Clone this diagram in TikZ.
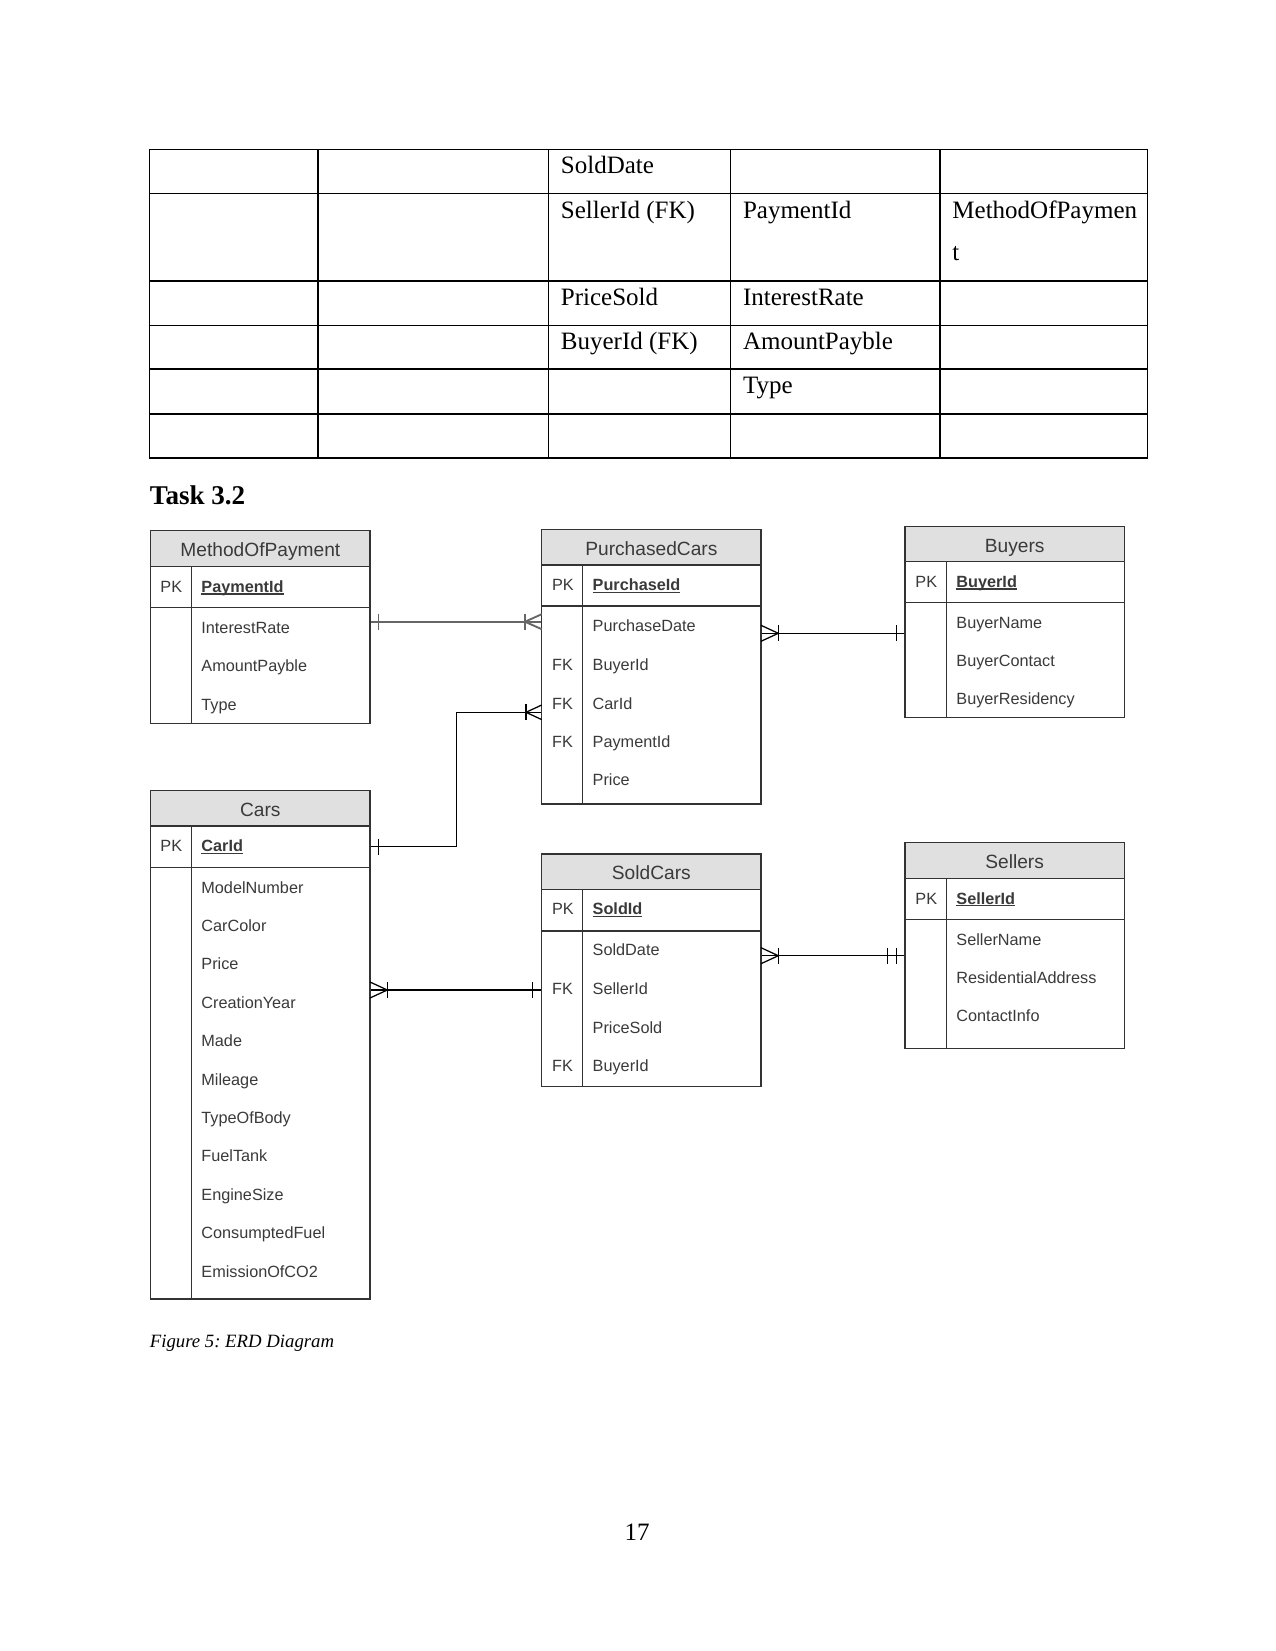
\documentclass[tikz,border=0pt]{standalone}
\usepackage{fontspec}
\setmainfont{Liberation Serif}
\newfontfamily\erfont{Liberation Sans}
\usetikzlibrary{fit}
\frenchspacing
\definecolor{erline}{HTML}{333333}
\definecolor{ertext}{HTML}{3A3A3A}
\definecolor{hdrfill}{HTML}{E0E0E0}
\definecolor{conngray}{HTML}{666666}
\newsavebox\erulbox
\newcommand\erul[1]{\sbox\erulbox{#1}\rlap{\rule[-1pt]{\wd\erulbox}{0.55pt}}\usebox\erulbox}
\newcommand\erbox[8]{%
  \fill[hdrfill] (#2,#3) rectangle (#4,#5);
  \draw[eline] (#2,#5) -- (#4,#5) (#2,#6) -- (#4,#6) (#8,#5) -- (#8,#7);
  \node[ebox, fit={(#2,#3) (#4,#7)}] (#1) {};
}
\begin{document}
\begin{tikzpicture}[x=0.48pt,y=-0.48pt,
  tbl/.style={line width=0.5pt, black},
  cell/.style={anchor=base west, inner sep=0pt, font=\fontsize{12}{14}\selectfont},
  hdr/.style={anchor=base, inner sep=0pt, text=ertext, font=\erfont\fontsize{9.2}{11}\selectfont},
  fld/.style={anchor=base west, inner sep=0pt, text=ertext, font=\erfont\fontsize{7.8}{9}\selectfont},
  pkf/.style={anchor=base west, inner sep=0pt, text=ertext, font=\erfont\bfseries\fontsize{7.8}{9}\selectfont},
  ebox/.style={draw=erline, line width=0.7pt, inner sep=0pt},
  eline/.style={draw=erline, line width=0.7pt},
  conn/.style={draw=black, line width=0.6pt},
  conng/.style={draw=conngray, line width=0.9pt},
]
\useasboundingbox (0,0) rectangle (1275,1651);
\fill[white] (0,0) rectangle (1275,1651);

% ---------- table ----------
\draw[tbl] (149.5,149.5) rectangle (1147.5,458);
\foreach \y in {193.7,281,325.3,369,414} \draw[tbl] (149.5,\y) -- (1147.5,\y);
\foreach \x in {318,548.5,730.6,940} \draw[tbl] (\x,149.5) -- (\x,458);

\node[cell] (t11) at (560.5,174) {SoldDate};
\node[cell] (t21) at (560.5,218.2) {SellerId (FK)};
\node[cell] (t22) at (742.6,218.2) {PaymentId};
\node[cell] (t23) at (952,218.2) {MethodOfPaymen};
\node[cell] (t23b) at (952,260.5) {t};
\node[cell] (t31) at (560.5,305.5) {PriceSold};
\node[cell] (t32) at (742.6,305.5) {InterestRate};
\node[cell] (t41) at (560.5,349.8) {BuyerId (FK)};
\node[cell] (t42) at (742.6,349.8) {AmountPayble};
\node[cell] (t52) at (742.6,393.5) {Type};

\node[anchor=base west, inner sep=0pt, font=\bfseries\fontsize{13}{15}\selectfont] (task) at (149.5,504) {Task 3.2};

% ---------- MethodOfPayment ----------
\erbox{mop}{150.7}{530.7}{370}{566.7}{607.7}{723.3}{191.7}
\node[hdr] (mop-t) at (260.35,556.3) {MethodOfPayment};
\node[fld] (mop-pk) at (160,592.5) {PK};
\node[pkf] (mop-id) at (201,592.5) {\erul{PaymentId}};
\node[fld] (mop-f1) at (201,633.1) {InterestRate};
\node[fld] (mop-f2) at (201,671.5) {AmountPayble};
\node[fld] (mop-f3) at (201,710.1) {Type};

% ---------- PurchasedCars ----------
\erbox{pc}{541.7}{529.3}{761}{565}{606}{804}{582.7}
\node[hdr] (pc-t) at (651.35,555.3) {PurchasedCars};
\node[fld] (pc-pk) at (551.7,590.8) {PK};
\node[pkf] (pc-id) at (592.3,590.8) {\erul{PurchaseId}};
\node[fld] (pc-f1) at (592.3,631.8) {PurchaseDate};
\node[fld] (pc-k2) at (551.7,670.8) {FK};
\node[fld] (pc-f2) at (592.3,670.8) {BuyerId};
\node[fld] (pc-k3) at (551.7,709.1) {FK};
\node[fld] (pc-f3) at (592.3,709.1) {CarId};
\node[fld] (pc-k4) at (551.7,747.5) {FK};
\node[fld] (pc-f4) at (592.3,747.5) {PaymentId};
\node[fld] (pc-f5) at (592.3,785.8) {Price};

% ---------- Buyers ----------
\erbox{buy}{905}{526.7}{1124.3}{561.7}{602.7}{717.3}{946.7}
\node[hdr] (buy-t) at (1014.65,552) {Buyers};
\node[fld] (buy-pk) at (915,587.5) {PK};
\node[pkf] (buy-id) at (956,587.5) {\erul{BuyerId}};
\node[fld] (buy-f1) at (956,628.1) {BuyerName};
\node[fld] (buy-f2) at (956,666.5) {BuyerContact};
\node[fld] (buy-f3) at (956,704.1) {BuyerResidency};

% ---------- Cars ----------
\erbox{cars}{150.7}{790.7}{370}{826}{867.7}{1299}{191.7}
\node[hdr] (cars-t) at (260.35,816.3) {Cars};
\node[fld] (cars-pk) at (160,851.8) {PK};
\node[pkf] (cars-id) at (201,851.8) {\erul{CarId}};
\foreach \t [count=\i] in {ModelNumber,CarColor,Price,CreationYear,Made,Mileage,TypeOfBody,FuelTank,EngineSize,ConsumptedFuel,EmissionOfCO2}
  \node[fld] (cars-f\i) at (201,{893.1+38.4*(\i-1)}) {\t};

% ---------- SoldCars ----------
\erbox{sold}{541.7}{854}{761}{889.3}{931}{1086.7}{582.7}
\node[hdr] (sold-t) at (651.35,879.7) {SoldCars};
\node[fld] (sold-pk) at (551.7,914.8) {PK};
\node[pkf] (sold-id) at (592.3,914.8) {\erul{SoldId}};
\node[fld] (sold-f1) at (592.3,955.8) {SoldDate};
\node[fld] (sold-k2) at (551.7,994.8) {FK};
\node[fld] (sold-f2) at (592.3,994.8) {SellerId};
\node[fld] (sold-f3) at (592.3,1033.1) {PriceSold};
\node[fld] (sold-k4) at (551.7,1071.5) {FK};
\node[fld] (sold-f4) at (592.3,1071.5) {BuyerId};

% ---------- Sellers ----------
\erbox{sel}{905}{842.7}{1124.3}{878.3}{919.3}{1048.3}{946.7}
\node[hdr] (sel-t) at (1014.65,868.7) {Sellers};
\node[fld] (sel-pk) at (915,904.1) {PK};
\node[pkf] (sel-id) at (956,904.1) {\erul{SellerId}};
\node[fld] (sel-f1) at (956,945.1) {SellerName};
\node[fld] (sel-f2) at (956,983.1) {ResidentialAddress};
\node[fld] (sel-f3) at (956,1021.5) {ContactInfo};

% ---------- connectors ----------
\coordinate (k1) at (0,621.7);
\coordinate (k2) at (0,633.3);
\coordinate (k3) at (0,846.7);
\coordinate (k4) at (456.7,712.3);
\coordinate (k5) at (0,990);
\coordinate (k6) at (0,955.7);

% MethodOfPayment -> PurchasedCars
\draw[conng] (mop.east |- k1) -- (pc.west |- k1);
\draw[conng] (378.5,613.7) -- (378.5,629.7);
\draw[conng] (525,613.7) -- (525,629.7);
\draw[conng] (541.7,614.2) -- (525,621.7) -- (541.7,629.2);

% PurchasedCars -> Buyers
\draw[conn] (pc.east |- k2) -- (buy.west |- k2);
\draw[conn] (761,625.3) -- (778.3,633.3) -- (761,641.3);
\draw[conn] (778.3,625.3) -- (778.3,641.3);
\draw[conn] (896.7,625.3) -- (896.7,641.3);

% Cars -> PurchasedCars
\draw[conn] (cars.east |- k3) -| (k4) -- (pc.west |- k4);
\draw[conn] (378.7,838.7) -- (378.7,854.7);
\draw[conn] (526,704.3) -- (526,720.3);
\draw[conn] (541.7,705) -- (526,712.3) -- (541.7,719.6);

% Cars -> SoldCars
\draw[conn] (cars.east |- k5) -- (sold.west |- k5);
\draw[conn] (370,982) -- (387.3,990) -- (370,998);
\draw[conn] (387.3,982) -- (387.3,998);
\draw[conn] (532.7,982) -- (532.7,998);

% SoldCars -> Sellers
\draw[conn] (sold.east |- k6) -- (sel.west |- k6);
\draw[conn] (761,947.7) -- (778.3,955.7) -- (761,963.7);
\draw[conn] (778.3,947.7) -- (778.3,963.7);
\draw[conn] (887.3,947.7) -- (887.3,963.7);
\draw[conn] (896.7,947.7) -- (896.7,963.7);

% ---------- caption and page number ----------
\node[anchor=base west, inner sep=0pt, font=\itshape\fontsize{9}{11}\selectfont] (cap) at (149.5,1347) {Figure 5: ERD Diagram};
\node[anchor=base, inner sep=0pt, font=\fontsize{12}{14}\selectfont] (pg) at (637,1540) {17};
\end{tikzpicture}
\end{document}
